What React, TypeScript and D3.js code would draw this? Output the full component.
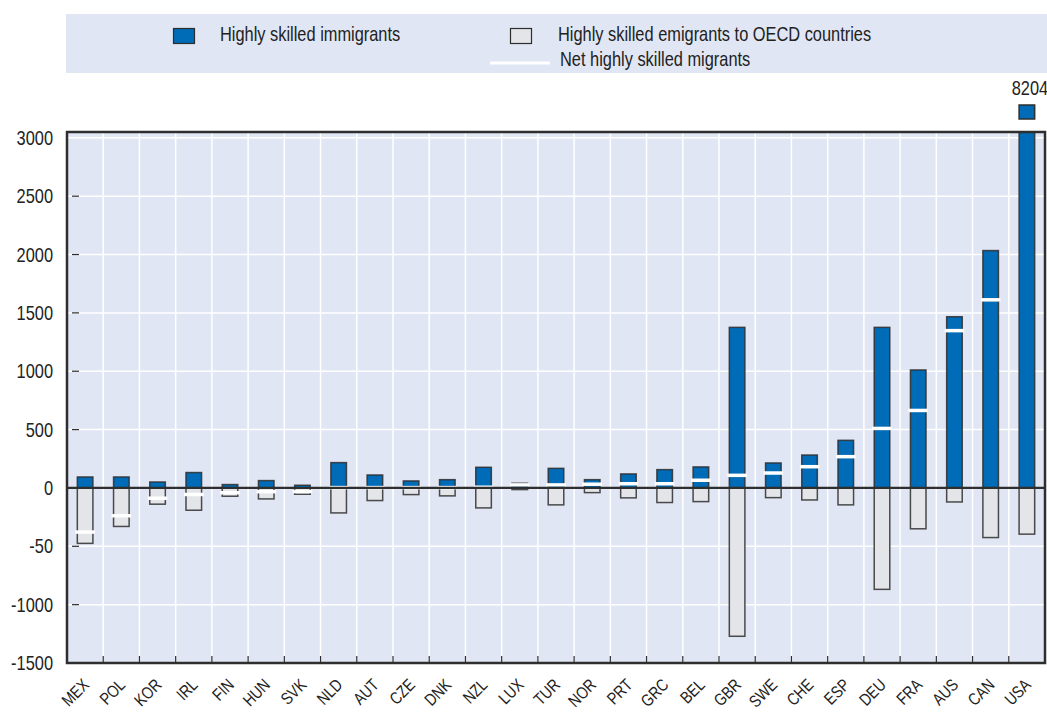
import React, { useEffect, useRef } from 'react';
import * as d3 from 'd3';

const countries = ['MEX', 'POL', 'KOR', 'IRL', 'FIN', 'HUN', 'SVK', 'NLD', 'AUT', 'CZE', 'DNK', 'NZL', 'LUX', 'TUR', 'NOR', 'PRT', 'GRC', 'BEL', 'GBR', 'SWE', 'CHE', 'ESP', 'DEU', 'FRA', 'AUS', 'CAN', 'USA'];
const immigrants = [94, 94, 51, 132, 29, 63, 23, 217, 111, 60, 71, 177, 40, 168, 71, 120, 157, 180, 1376, 214, 282, 408, 1376, 1011, 1467, 2034, 8204];
const emigrants = [475, 330, 139, 191, 71, 94, 54, 214, 108, 57, 68, 171, 14, 145, 40, 85, 125, 117, 1271, 83, 103, 145, 869, 350, 120, 425, 396];
const netMigrants = [-378, -238, -88, -56, -41, -32, -31, 3, 3, 3, 3, 6, 26, 26, 32, 36, 36, 66, 108, 128, 182, 268, 510, 664, 1348, 1612, 7808];
const yTicks = [3000, 2500, 2000, 1500, 1000, 500, 0, -500, -1000, -1500];
const yTickLabels = ['3000', '2500', '2000', '1500', '1000', '500', '0', '-50', '-1000', '-1500'];
const legendLabels = ['Highly skilled immigrants', 'Highly skilled emigrants to OECD countries', 'Net highly skilled migrants'];

const BLUE = '#006bb6';
const GREY = '#e4e5e8';
const BG = '#e1e6f4';
const DARK = '#2e2e2e';
const FONT = '"Liberation Sans", Arial, sans-serif';
const SQUEEZE = 0.82; // narrow look

export default function App() {
  const ref = useRef<SVGSVGElement>(null);

  useEffect(() => {
    const svg = d3.select(ref.current);
    svg.selectAll('*').remove();

    const W = 1047, H = 712;
    const margin = { top: 132, left: 67, right: 2, bottom: 49 };
    const iw = W - margin.left - margin.right;
    const ih = H - margin.top - margin.bottom;

    svg.attr('width', W).attr('height', H).style('font-family', FONT);

    const label = (parent: any, px: number, py: number, txt: string, size: number, anchor = 'start', rot = 0) =>
      parent.append('text')
        .attr('transform', `translate(${px},${py}) rotate(${rot}) scale(${SQUEEZE},1)`)
        .attr('text-anchor', anchor).attr('font-size', size).attr('fill', '#222')
        .text(txt);

    // legend
    const lg = svg.append('g');
    lg.append('rect').attr('x', 66).attr('y', 14).attr('width', 981).attr('height', 59).attr('fill', BG);
    lg.append('rect').attr('x', 173.5).attr('y', 28.5).attr('width', 21).attr('height', 15)
      .attr('fill', BLUE).attr('stroke', DARK).attr('stroke-width', 1.2);
    label(lg, 220, 41, legendLabels[0], 20);
    lg.append('rect').attr('x', 510.5).attr('y', 28.5).attr('width', 21).attr('height', 15)
      .attr('fill', GREY).attr('stroke', DARK).attr('stroke-width', 1.2);
    label(lg, 558, 41, legendLabels[1], 20);
    lg.append('line').attr('x1', 490).attr('x2', 550).attr('y1', 63).attr('y2', 63)
      .attr('stroke', '#fff').attr('stroke-width', 3);
    label(lg, 560, 66, legendLabels[2], 20);

    const x = d3.scaleBand().domain(countries).range([0, iw]).padding(0);
    const y = d3.scaleLinear().domain([-1500, 3050]).range([ih, 0]);
    const bw = x.bandwidth() * 0.43;
    const cx = (c: string) => (x(c) as number) + x.bandwidth() / 2;

    const g = svg.append('g').attr('transform', `translate(${margin.left},${margin.top})`);

    svg.append('defs').append('clipPath').attr('id', 'plotclip')
      .append('rect').attr('x', 0).attr('y', 0).attr('width', iw).attr('height', ih);

    g.append('rect').attr('width', iw).attr('height', ih).attr('fill', BG);

    // gridlines
    g.selectAll('.hgrid').data(yTicks.filter(t => t !== 0 && t !== -1500)).enter().append('line')
      .attr('x1', 0).attr('x2', iw).attr('y1', d => y(d)).attr('y2', d => y(d))
      .attr('stroke', '#fff').attr('stroke-width', 1.5);
    g.selectAll('.vgrid').data(countries.slice(1)).enter().append('line')
      .attr('x1', d => x(d) as number).attr('x2', d => x(d) as number).attr('y1', 0).attr('y2', ih)
      .attr('stroke', '#fff').attr('stroke-width', 1.5);

    // inner tick marks
    g.selectAll('.ytick').data(yTicks.filter(t => t !== 3000 && t !== 0 && t !== -1500)).enter().append('line')
      .attr('x1', 5).attr('x2', 12).attr('y1', d => y(d)).attr('y2', d => y(d))
      .attr('stroke', DARK).attr('stroke-width', 1.2);
    g.selectAll('.xtick').data(countries.slice(1)).enter().append('line')
      .attr('x1', d => x(d) as number).attr('x2', d => x(d) as number).attr('y1', ih - 7).attr('y2', ih)
      .attr('stroke', DARK).attr('stroke-width', 1.2);

    const bars = g.append('g').attr('clip-path', 'url(#plotclip)');

    // emigrants (down)
    bars.selectAll('.emi').data(countries).enter().append('rect')
      .attr('x', d => cx(d) - bw / 2).attr('y', y(0))
      .attr('width', bw).attr('height', (d, i) => y(-emigrants[i]) - y(0))
      .attr('fill', GREY).attr('stroke', DARK).attr('stroke-width', 1.5).attr('stroke-opacity', 0.85);

    // immigrants (up)
    bars.selectAll('.imm').data(countries).enter().append('rect')
      .attr('x', d => cx(d) - bw / 2).attr('y', (d, i) => y(immigrants[i]))
      .attr('width', bw).attr('height', (d, i) => y(0) - y(immigrants[i]))
      .attr('fill', BLUE).attr('stroke', DARK).attr('stroke-width', 1.5).attr('stroke-opacity', 0.85);

    // zero line
    g.append('line').attr('x1', 0).attr('x2', iw).attr('y1', y(0)).attr('y2', y(0))
      .attr('stroke', DARK).attr('stroke-width', 2.2);

    // net markers
    bars.selectAll('.net').data(countries).enter().append('line')
      .attr('x1', d => cx(d) - bw / 2 - 2).attr('x2', d => cx(d) + bw / 2 + 2)
      .attr('y1', (d, i) => y(netMigrants[i])).attr('y2', (d, i) => y(netMigrants[i]))
      .attr('stroke', '#fff').attr('stroke-width', 3.5);

    // frame
    g.append('rect').attr('width', iw).attr('height', ih).attr('fill', 'none')
      .attr('stroke', DARK).attr('stroke-width', 2.5);

    // y labels
    yTicks.forEach((t, i) => label(g, -14, y(t) + 7, yTickLabels[i], 20, 'end'));

    // x labels
    countries.forEach(c => label(g, cx(c) + 5, ih + 23, c, 17, 'end', -45));

    // off-scale value for the last country
    const last = countries.length - 1;
    const lc = cx(countries[last]);
    g.append('rect').attr('x', lc - bw / 2).attr('y', -27).attr('width', bw).attr('height', 14)
      .attr('fill', BLUE).attr('stroke', DARK).attr('stroke-width', 1.5);
    label(g, lc + 3, -37, String(immigrants[last]), 20, 'middle');
  }, []);

  return (
    <div style={{ position: 'absolute', left: 0, top: 0, background: '#fff' }}>
      <svg ref={ref}></svg>
    </div>
  );
}
